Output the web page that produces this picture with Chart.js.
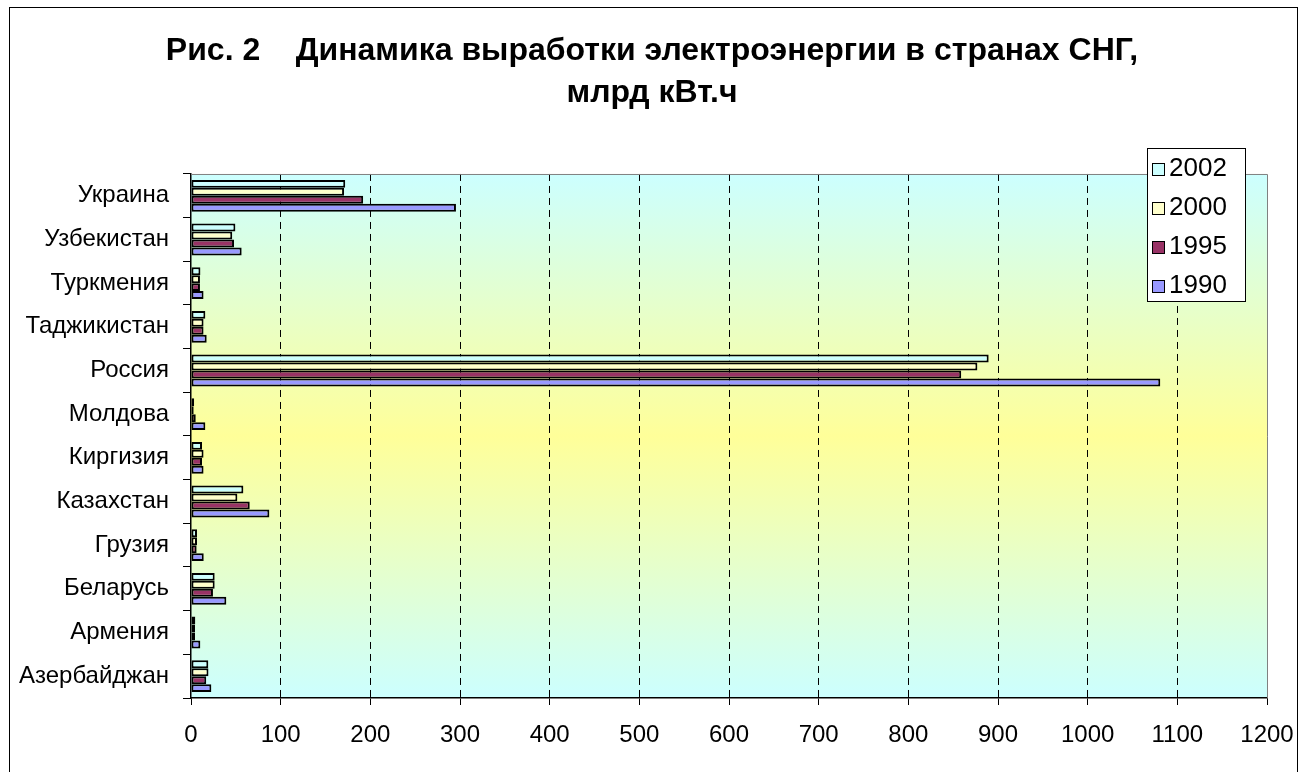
<!DOCTYPE html>
<html lang="ru">
<head>
<meta charset="utf-8">
<title>Динамика выработки электроэнергии в странах СНГ</title>
<script src="https://cdn.jsdelivr.net/npm/chart.js@4.4.1/dist/chart.umd.min.js"></script>
<style>
  html, body { margin: 0; padding: 0; background: #ffffff; }
  canvas { display: block; }
</style>
</head>
<body>
<canvas id="chart" width="1304" height="772"></canvas>
<script>
// Countries, listed from the top of the chart to the bottom
const countries = ['Украина', 'Узбекистан', 'Туркмения', 'Таджикистан', 'Россия', 'Молдова',
  'Киргизия', 'Казахстан', 'Грузия', 'Беларусь', 'Армения', 'Азербайджан'];

// Electricity output, bn kWh
const years = ['2002', '2000', '1995', '1990'];
const v2002 = [172, 49.5, 10.5, 16, 889.6, 3.5, 12.3, 58.4, 6.7, 26.4, 4.8, 19.3];
const v2000 = [170.7, 46, 10, 14, 877, 3, 14, 51.7, 6.7, 26.4, 4.5, 19.5];
const v1995 = [192, 48, 10, 14, 859, 5.3, 12.3, 65.5, 6.3, 24.5, 4.5, 17];
const v1990 = [295.5, 56.5, 14, 17.5, 1081, 16, 14, 87.4, 14.2, 39.4, 10.4, 22.7];

const xMin = 0, xMax = 1200, xStep = 100;

const titleLines = ['Рис. 2    Динамика выработки электроэнергии в странах СНГ,', 'млрд кВт.ч'];

const seriesColors = ['#CCFFFF', '#FFFFCC', '#993366', '#9999FF'];
const FONT = "'Liberation Sans', Arial, sans-serif";

const seriesValues = [v2002, v2000, v1995, v1990];
const datasets = years.map((y, i) => ({
  label: y,
  data: seriesValues[i],
  backgroundColor: seriesColors[i],
  borderColor: '#000000',
  borderWidth: 2,
  borderSkipped: false,
  categoryPercentage: 0.73,
  barPercentage: 1.0
}));

// Gradient plot background, grey plot frame and the outer chart frame
const plotDecor = {
  id: 'plotDecor',
  beforeDraw(chart) {
    const {ctx, chartArea: a} = chart;
    ctx.save();
    ctx.fillStyle = '#ffffff';
    ctx.fillRect(0, 0, chart.width, chart.height);
    const g = ctx.createLinearGradient(0, a.top, 0, a.bottom);
    g.addColorStop(0, '#CCFFFF');
    g.addColorStop(0.5, '#FFFF99');
    g.addColorStop(1, '#CCFFFF');
    ctx.fillStyle = g;
    ctx.fillRect(a.left, a.top, a.right - a.left, a.bottom - a.top);
    ctx.restore();
  },
  afterDraw(chart) {
    const {ctx, chartArea: a} = chart;
    ctx.save();
    ctx.strokeStyle = '#808080';
    ctx.lineWidth = 1;
    ctx.beginPath();
    ctx.moveTo(a.left, a.top + 0.5);
    ctx.lineTo(a.right + 0.5, a.top + 0.5);
    ctx.lineTo(a.right + 0.5, a.bottom);
    ctx.stroke();
    ctx.strokeStyle = '#000000';
    ctx.strokeRect(9.5, 7.5, 1288, 800);
    ctx.restore();
  }
};

// Boxed legend drawn over the upper right corner of the plot
const boxLegend = {
  id: 'boxLegend',
  afterDraw(chart) {
    const {ctx} = chart;
    const box = {x: 1147.5, y: 148.5, w: 98, h: 153};
    ctx.save();
    ctx.fillStyle = '#ffffff';
    ctx.fillRect(box.x, box.y, box.w, box.h);
    ctx.strokeStyle = '#000000';
    ctx.lineWidth = 1;
    ctx.strokeRect(box.x, box.y, box.w, box.h);
    ctx.font = '26px ' + FONT;
    ctx.textBaseline = 'alphabetic';
    ctx.textAlign = 'left';
    chart.data.datasets.forEach((ds, i) => {
      const base = 176 + i * 39;
      ctx.fillStyle = ds.backgroundColor;
      ctx.fillRect(1152.5, base - 12.5, 12, 12);
      ctx.strokeStyle = '#000000';
      ctx.strokeRect(1152.5, base - 12.5, 12, 12);
      ctx.fillStyle = '#000000';
      ctx.fillText(ds.label, 1169, base);
    });
    ctx.restore();
  }
};

new Chart(document.getElementById('chart'), {
  type: 'bar',
  data: { labels: countries, datasets },
  plugins: [plotDecor, boxLegend],
  options: {
    indexAxis: 'y',
    responsive: false,
    animation: false,
    layout: { padding: 0 },
    plugins: {
      legend: { display: false },
      tooltip: { enabled: false },
      title: {
        display: true,
        text: titleLines,
        color: '#000000',
        font: { family: FONT, size: 32, weight: 'bold', lineHeight: 1.32 },
        padding: { top: 29.8, bottom: 59.7 }
      }
    },
    scales: {
      x: {
        type: 'linear',
        position: 'bottom',
        min: xMin,
        max: xMax,
        afterFit(scale) {
          scale.height = 74;
          scale.paddingLeft = 0;
          scale.paddingRight = 37;
        },
        ticks: {
          stepSize: xStep,
          color: '#000000',
          padding: 16,
          font: { family: FONT, size: 24 },
          callback: (v) => String(v)
        },
        grid: {
          display: true,
          drawOnChartArea: true,
          drawTicks: true,
          tickLength: 7,
          tickColor: '#000000',
          tickWidth: 1,
          lineWidth: 1,
          color: (c) => (c.tick && (c.tick.value === xMin || c.tick.value === xMax)) ? 'rgba(0,0,0,0)' : '#000000'
        },
        border: { display: true, color: '#000000', width: 1.5, dash: [7, 5] }
      },
      y: {
        type: 'category',
        offset: true,
        afterFit(scale) { scale.width = 191; },
        ticks: {
          color: '#000000',
          padding: 14,
          font: { family: FONT, size: 24 }
        },
        grid: {
          display: true,
          offset: true,
          drawOnChartArea: false,
          drawTicks: true,
          tickLength: 8,
          tickColor: '#000000',
          tickWidth: 1
        },
        border: { display: true, color: '#000000', width: 1.5 }
      }
    }
  }
});
</script>
</body>
</html>
